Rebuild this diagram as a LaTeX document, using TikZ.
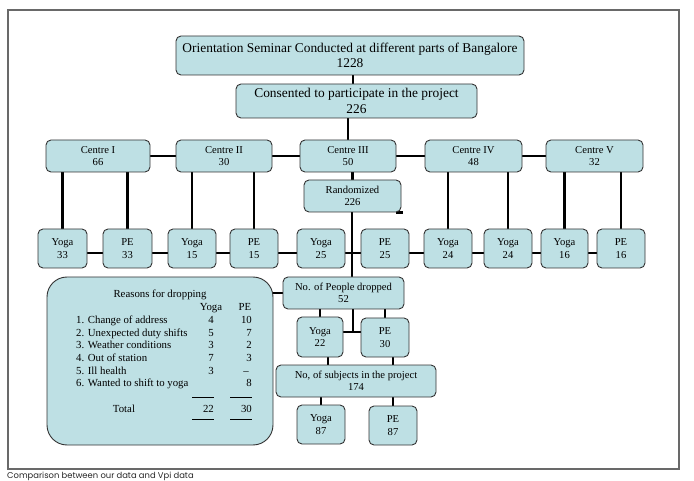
\documentclass[tikz,border=0pt]{standalone}
\usepackage{fontspec}
\setmainfont{Liberation Serif}
\newfontfamily\capfont{Poppins}
\newfontfamily\boxfont{Liberation Serif}
\usetikzlibrary{calc,backgrounds}
\definecolor{boxfill}{RGB}{190,224,228}
\definecolor{framegray}{RGB}{105,105,105}
\begin{document}
\begin{tikzpicture}[x=1pt,y=-1pt,
  box/.style={draw=black!80, fill=boxfill, rounded corners=5pt, line width=0.9pt, align=center, inner sep=0pt, font=\boxfont\fontsize{10.6}{12.5}\selectfont},
  big/.style={box, font=\boxfont\fontsize{13.4}{15.5}\selectfont},
  cbox/.style={box, minimum height=32pt},
  sbox/.style={box, minimum width=48pt, minimum height=39pt},
  conn/.style={line width=2.6pt, black},
  rulel/.style={line width=0.6pt, black},
  rtxt/.style={inner sep=0pt, font=\boxfont\fontsize{10.8}{12.7}\selectfont},
]
\useasboundingbox (0,0) rectangle (694,481);
\draw[framegray, line width=1.2pt] (8,10) rectangle (679,469);

% top
\node[big, minimum width=348pt, minimum height=39pt] (top) at (350,55.5) {Orientation Seminar Conducted at different parts of Bangalore\\1228};
\node[big, minimum width=241pt, minimum height=34pt] (cons) at (356.5,101) {Consented to participate in the project\\226};

% centres
\node[cbox, minimum width=104pt] (c1) at (98,156) {Centre I\\66};
\node[cbox, minimum width=96pt] (c2) at (224,156) {Centre II\\30};
\node[cbox, minimum width=96pt] (c3) at (348,156) {Centre III\\50};
\node[cbox, minimum width=97pt] (c4) at (473.5,156) {Centre IV\\48};
\node[cbox, minimum width=97pt] (c5) at (594.5,156) {Centre V\\32};
\node[cbox, minimum width=97pt] (rand) at (352.5,196) {Randomized\\226};

% bottom row
\node[sbox, minimum width=49pt] (y33) at (62.5,248.5) {Yoga\\33};
\node[sbox, minimum width=49pt] (p33) at (127.5,248.5) {PE\\33};
\node[sbox] (y15) at (192,248.5) {Yoga\\15};
\node[sbox] (p15) at (254,248.5) {PE\\15};
\node[sbox] (y25) at (321,248.5) {Yoga\\25};
\node[sbox] (p25) at (385,248.5) {PE\\25};
\node[sbox] (y24a) at (448,248.5) {Yoga\\24};
\node[sbox] (y24b) at (508,248.5) {Yoga\\24};
\node[sbox, minimum width=47pt] (y16) at (564.5,248.5) {Yoga\\16};
\node[sbox] (p16) at (621,248.5) {PE\\16};

% lower part
\node[box, minimum width=121pt, minimum height=32pt] (drop) at (343.5,293) {No. of People dropped\\52};
\node[box, minimum width=46pt, minimum height=40pt] (y22) at (320,337) {Yoga\\22};
\node[box, minimum width=48pt, minimum height=39pt] (p30) at (385,337.5) {PE\\30};
\node[box, minimum width=160pt, minimum height=32pt] (subj) at (356,381) {No, of subjects in the project\\174};
\node[sbox] (y87) at (321,424.5) {Yoga\\87};
\node[sbox] (p87) at (393,425.5) {PE\\87};

% reasons box
\node[box, rounded corners=20pt, minimum width=226pt, minimum height=168pt] (reasons) at (160,361) {};
\node[rtxt, anchor=base] (rt) at (160,297.5) {Reasons for dropping};
\node[rtxt, anchor=base] (hy) at (211,310.5) {Yoga};
\node[rtxt, anchor=base] (hp) at (245,310.5) {PE};
\foreach \i/\lab/\yv/\pv/\b in {1/1. Change of address/4/10/323.5,
  2/2. Unexpected duty shifts/5/7/336.2,
  3/3. Weather conditions/3/2/348.8,
  4/4. Out of station/7/3/361.5,
  5/5. Ill health/3/{}/374.2,
  6/6. Wanted to shift to yoga/{}/8/386.8}{
  \node[rtxt, anchor=base west] (rl\i) at (76,\b) {\lab};
  \node[rtxt, anchor=base east] (ry\i) at (214,\b) {\yv};
  \node[rtxt, anchor=base east] (rp\i) at (252,\b) {\pv};
}
\node[rtxt, anchor=base east] (rp5d) at (249,374.2) {–};
\node[rtxt, anchor=base] (tot) at (124,412.5) {Total};
\node[rtxt, anchor=base east] (toty) at (214,412.5) {22};
\node[rtxt, anchor=base east] (totp) at (252,412.5) {30};
\coordinate (ya1) at (192,397.7); \coordinate (ya2) at (214,397.7);
\coordinate (pa1) at (230,397.7); \coordinate (pa2) at (252,397.7);
\coordinate (yb1) at (192,419.3); \coordinate (yb2) at (214,419.3);
\coordinate (pb1) at (230,419.3); \coordinate (pb2) at (252,419.3);
\draw[rulel] (ya1) -- (ya2); \draw[rulel] (pa1) -- (pa2);
\draw[rulel] (yb1) -- (yb2); \draw[rulel] (pb1) -- (pb2);

% caption
\node[anchor=base west, inner sep=0pt, font=\capfont\fontsize{8.4}{10}\selectfont, text=black!85] (cap) at (7,478.5) {Comparison between our data and Vpi data};

% connectors
\begin{scope}[on background layer]
\coordinate (xa) at (353,0);
\coordinate (xr) at (352,0);
\coordinate (tj) at (353,332);
\draw[conn] (top.south -| xa) -- (cons.north -| xa);
\draw[conn] (c3.north |- cons.south) -- (c3.north);
\draw[conn] (c1.east) -- (c2.west);
\draw[conn] (c2.east) -- (c3.west);
\draw[conn] (c3.east) -- (c4.west);
\draw[conn] (c4.east) -- (c5.west);
\foreach \c/\b in {c1/y33,c1/p33,c2/y15,c2/p15,c4/y24a,c4/y24b,c5/y16,c5/p16}{
  \draw[conn] (\b.north |- \c.south) -- (\b.north);
}
\draw[conn] (rand.north |- c3.south) -- (rand.north);
\foreach \a/\b in {y33/p33,p33/y15,y15/p15,p15/y25,y25/p25,p25/y24a,y24a/y24b,y24b/y16,y16/p16}{
  \draw[conn] ([yshift=-4.5pt]\a.east) -- ([yshift=-4.5pt]\b.west);
}
\draw[conn] (rand.south -| xr) -- (drop.north -| xr);
\draw[conn] ([xshift=-5pt]rand.south east) -- ([xshift=2pt]rand.south east);
\draw[conn] (reasons.east |- drop.west) -- (drop.west);
\draw[conn] (y22.north |- drop.south) -- (y22.north);
\draw[conn] (p30.north |- drop.south) -- (p30.north);
\draw[conn] (drop.south -| tj) -- (tj);
\draw[conn] (y22.east |- tj) -- (p30.west |- tj);
\draw[conn] ([xshift=8pt]y22.south) -- ([xshift=8pt]y22.south |- subj.north);
\draw[conn] (p87.north |- p30.south) -- (p87.north |- subj.north);
\draw[conn] (y87.north |- subj.south) -- (y87.north);
\draw[conn] (p87.north |- subj.south) -- (p87.north);
\end{scope}
\end{tikzpicture}
\end{document}
